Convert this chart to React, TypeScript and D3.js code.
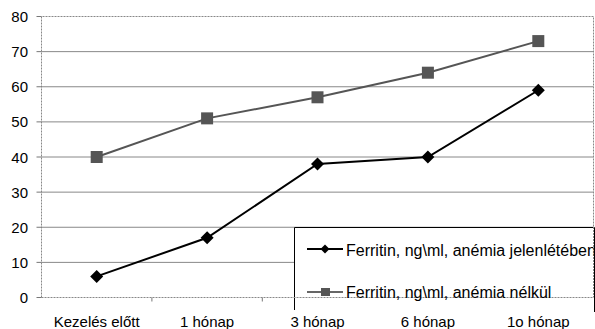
import React from "react";
import * as d3 from "d3";

const categories = ["Kezelés előtt", "1 hónap", "3 hónap", "6 hónap", "1o hónap"];
const seriesAnemia = [6, 17, 38, 40, 59];
const seriesNoAnemia = [40, 51, 57, 64, 73];
const yTicks = [0, 10, 20, 30, 40, 50, 60, 70, 80];
const seriesNames = ["Ferritin, ng\\ml, anémia jelenlétében", "Ferritin, ng\\ml, anémia nélkül"];

export default function App() {
  const W = 595, H = 329;
  const left = 41.5, right = 593.5, top = 16.5, bottom = 297.5;
  const x = d3.scaleBand<string>().domain(categories).range([left, right]);
  const y = d3.scaleLinear().domain([0, 80]).range([bottom, top]);
  const cx = (c: string) => (x(c) as number) + x.bandwidth() / 2;
  const line = d3.line<number>().x((_, i) => cx(categories[i])).y((d) => y(d));
  const font = "'Liberation Sans', Arial, sans-serif";
  const diamond = (px: number, py: number, r: number) =>
    `M${px},${py - r}L${px + r},${py}L${px},${py + r}L${px - r},${py}Z`;

  return (
    <svg width={W} height={H} style={{ position: "absolute", left: 0, top: 0, background: "#fff" }}>
      <defs>
        <clipPath id="legclip">
          <rect x={294} y={227} width={299.5} height={100} />
        </clipPath>
      </defs>
      {yTicks.filter((t) => t > 0 && t < 80).map((t) => (
        <line key={t} x1={left} x2={right} y1={y(t)} y2={y(t)} stroke="#888" strokeWidth={1} />
      ))}
      <path d={`M${left},${bottom}V${top}H${right}V${bottom}`} fill="none" stroke="#888" strokeDasharray="2,1" />
      {yTicks.map((t) => (
        <g key={t}>
          <line x1={left - 5} x2={left} y1={y(t)} y2={y(t)} stroke="#777" />
          <text x={28} y={y(t) + 5.5} textAnchor="end" fontFamily={font} fontSize={15} fill="#000">{t}</text>
        </g>
      ))}
      {categories.map((c, i) => (
        <g key={c}>
          {i > 0 && <line x1={x(c)} x2={x(c)} y1={bottom} y2={bottom + 4} stroke="#777" />}
          <text x={cx(c)} y={327} textAnchor="middle" fontFamily={font} fontSize={15} fill="#000">{c}</text>
        </g>
      ))}
      <path d={line(seriesNoAnemia) || ""} fill="none" stroke="#555" strokeWidth={2} />
      {seriesNoAnemia.map((v, i) => (
        <rect key={i} x={cx(categories[i]) - 6} y={y(v) - 6} width={12} height={12} fill="#555" />
      ))}
      <path d={line(seriesAnemia) || ""} fill="none" stroke="#000" strokeWidth={2} />
      {seriesAnemia.map((v, i) => (
        <path key={i} d={diamond(cx(categories[i]), y(v), 6.5)} fill="#000" />
      ))}
      <g>
        <rect x={294} y={227.5} width={300} height={82} fill="#fff" />
        <path d="M294.5,310V227.5H594.5V312" fill="none" stroke="#000" strokeWidth={1} />
        <line x1={left} x2={right} y1={bottom} y2={bottom} stroke="#888" strokeDasharray="2,1" />
        <line x1={right} x2={right} y1={227} y2={bottom} stroke="#888" strokeDasharray="2,1" />
        <line x1={307} x2={343} y1={249} y2={249} stroke="#000" strokeWidth={2} />
        <path d={diamond(325, 249, 4.5)} fill="#000" />
        <line x1={307} x2={343} y1={292} y2={292} stroke="#666" strokeWidth={2} />
        <rect x={321} y={288} width={9} height={8} fill="#555" />
        <g clipPath="url(#legclip)">
          <text x={346} y={255.5} fontFamily={font} fontSize={16} fill="#000">{seriesNames[0]}</text>
          <text x={346} y={297.5} fontFamily={font} fontSize={16} fill="#000">{seriesNames[1]}</text>
        </g>
      </g>
    </svg>
  );
}
